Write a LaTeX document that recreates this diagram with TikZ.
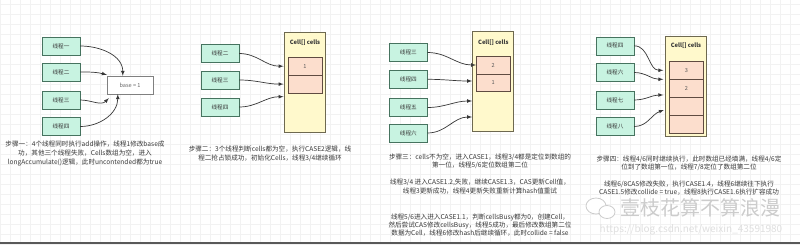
\documentclass[tikz,border=0pt]{standalone}
\usepackage{fontspec}
\setmainfont{Noto Sans CJK SC}
\usetikzlibrary{positioning,arrows,calc}
\definecolor{mint}{RGB}{200,243,225}
\definecolor{mintline}{RGB}{70,115,95}
\definecolor{paleyellow}{RGB}{255,249,204}
\definecolor{yellowline}{RGB}{110,105,80}
\definecolor{peach}{RGB}{252,222,205}
\definecolor{peachline}{RGB}{95,75,65}
\definecolor{inkgray}{RGB}{55,55,55}

\begin{document}
\begin{tikzpicture}[x=1pt,y=1pt,
thread/.style={
  draw=mintline,
  fill=mint,
  minimum width=38pt,
  minimum height=18pt,
  inner sep=0pt,
  font=\fontsize{5.6}{6}\selectfont,
  text=inkgray},
basebox/.style={draw=gray,fill=white,minimum width=46pt,minimum height=18pt,
  inner sep=0pt,font=\fontsize{5.6}{6}\selectfont,text=gray!80!black},
cellsbox/.style={draw=yellowline,fill=paleyellow,minimum width=41pt,
  minimum height=100pt,inner sep=0pt},
cellbox/.style={draw=peachline,fill=peach,minimum width=34pt,
  minimum height=17.5pt,inner sep=0pt,font=\fontsize{5.6}{6}\selectfont,
  text=gray!70!black},
cellstitle/.style={font=\fontsize{5.8}{6}\selectfont\bfseries,text=inkgray},
note/.style={align=center,inner sep=0pt,text=inkgray},
link/.style={-latex,draw=inkgray,line width=0.7pt}
]
\useasboundingbox (0,0) rectangle (800,244);
\fill[white] (0,0) rectangle (800,244);
\draw[gray!10,line width=0.3pt] (0,0) grid[step=10] (800,244);
\fill[gray!70!black] (0,0) rectangle (800,2.5);

% step one
\node[thread] (a1) at (61,198) {线程一};
\node[thread] (a2) at (61,172) {线程二};
\node[thread] (a3) at (61,144) {线程三};
\node[thread] (a4) at (61,117.5) {线程四};
\node[basebox] (base) at (130,159) {base = 1};
\draw[link] (a1.east) to[out=0,in=90] ($(base.north west)+(16,0)$);
\draw[link] (a2.east) to[out=0,in=165] ($(base.north west)+(0,1)$);
\draw[link] (a3.east) to[out=0,in=-135] ($(base.south west)+(2,-4)$);
\draw[link] (a4.east) to[out=0,in=-90] ($(base.south west)+(11,0)$);
\node[note,font=\fontsize{6.6}{9}\selectfont] at (85,90)
  {步骤一：4个线程同时执行add操作，线程1修改base成\\
   功，其他三个线程失败，Cells数组为空，进入\\
   longAccumulate()逻辑，此时uncontended都为true};

% step two
\node[thread] (b2) at (220,190.5) {线程二};
\node[thread] (b3) at (220,164) {线程三};
\node[thread] (b4) at (220,137) {线程四};
\node[cellsbox] (cellsB) at (304.2,162) {};
\node[cellstitle] at (305,201.3) {Cell[] cells};
\node[cellbox] (c21) at (305,177.8) {1};
\node[cellbox,below=0pt of c21] (c22) {};
\draw[link] (b2.east) to[out=0,in=180] (cellsB.west |- c21);
\draw[link] (b3.east) to[out=0,in=180] (cellsB.west |- c22);
\draw[link] (b4.east) to[out=0,in=180] ($(cellsB.west)+(0,-14.7)$);
\node[note,font=\fontsize{6.6}{9.5}\selectfont] at (270,90)
  {步骤二：3个线程判断cells都为空，执行CASE2逻辑，线\\
   程二抢占锁成功，初始化Cells，线程3/4继续循环};

% step three
\node[thread] (d3) at (408.3,191.5) {线程三};
\node[thread] (d4) at (408.3,164.7) {线程四};
\node[thread] (d5) at (408.3,136.5) {线程五};
\node[thread] (d6) at (408.3,111) {线程六};
\node[cellsbox] (cellsC) at (492.8,163) {};
\node[cellstitle] at (493.3,201.7) {Cell[] cells};
\node[cellbox] (c31) at (493.2,179) {2};
\node[cellbox,below=0pt of c31] (c32) {1};
\draw[link] (d3.east) to[out=0,in=180] (c31.west);
\draw[link] (d4.east) to[out=0,in=180] (cellsC.west);
\draw[link] (d5.east) to[out=0,in=180] ($(cellsC.west)+(0,-20)$);
\draw[link] (d6.east) to[out=0,in=180] ($(cellsC.west)+(0,-36)$);
\node[note,font=\fontsize{6.6}{7.6}\selectfont] at (480,82.7)
  {步骤三：cells不为空，进入CASE1，线程3/4都是定位到数组的\\
   第一位，线程5/6定位数组第二位};
\node[note,font=\fontsize{6.6}{9.3}\selectfont] at (480,57.7)
  {线程3/4 进入CASE1.2,失败，继续CASE1.3，CAS更新Cell值，\\
   线程3更新成功，线程4更新失败重新计算hash值重试};
\node[note,font=\fontsize{6.6}{7.7}\selectfont] at (480,19)
  {线程5/6进入进入CASE1.1，判断cellsBusy都为0，创建Cell，\\
   然后尝试CAS修改cellsBusy，线程5成功，最后修改数组第二位\\
   数据为Cell，线程6修改hash后继续循环，此时collide = false};

% step four
\node[thread] (e4) at (615,198.2) {线程四};
\node[thread] (e6) at (615,171.5) {线程六};
\node[thread] (e7) at (615,144) {线程七};
\node[thread] (e8) at (615,117.5) {线程八};
\node[cellsbox] (cellsD) at (685.5,157.7) {};
\node[cellstitle] at (686,198) {Cell[] cells};
\node[cellbox] (c41) at (686.3,173.7) {3};
\node[cellbox,below=0pt of c41] (c42) {2};
\node[cellbox,below=0pt of c42] (c43) {};
\node[cellbox,below=0pt of c43] (c44) {};
\draw[link] (e4.east) to[out=0,in=180] ($(cellsD.west |- c41)+(-1.5,0)$);
\draw[link] (e6.east) to[out=0,in=180] ($(cellsD.west)+(-1.5,7)$);
\draw[link] (e7.east) to[out=0,in=180] ($(cellsD.west)+(-1.5,-8.7)$);
\draw[link] (e8.east) to[out=0,in=200] ($(cellsD.west)+(-1,-23.7)$);
\node[note,font=\fontsize{6.6}{8.4}\selectfont] at (689,80.5)
  {步骤四：线程4/6同时继续执行，此时数组已经填满，线程4/6定\\
   位到了数组第一位，线程7/8定位了数组第二位};
\node[note,font=\fontsize{6.6}{8.4}\selectfont] at (689,55.8)
  {线程6/8CAS修改失败，执行CASE1.4，线程6继续往下执行\\
   CASE1.5修改collide = true，线程8执行CASE1.6执行扩容成功};

% watermark
\draw[gray!40,line width=0.8pt,fill=white] (596,38) ellipse (10 and 8);
\draw[gray!40,line width=0.8pt,fill=white] (607,32) ellipse (8 and 6.5);
\node[text=gray!40,font=\fontsize{20}{20}\selectfont] at (700,36) {壹枝花算不算浪漫};
\node[text=gray!25,font=\fontsize{10}{10}\selectfont] at (691,14)
  {https://blog.csdn.net/weixin\_43591980};
\end{tikzpicture}
\end{document}
